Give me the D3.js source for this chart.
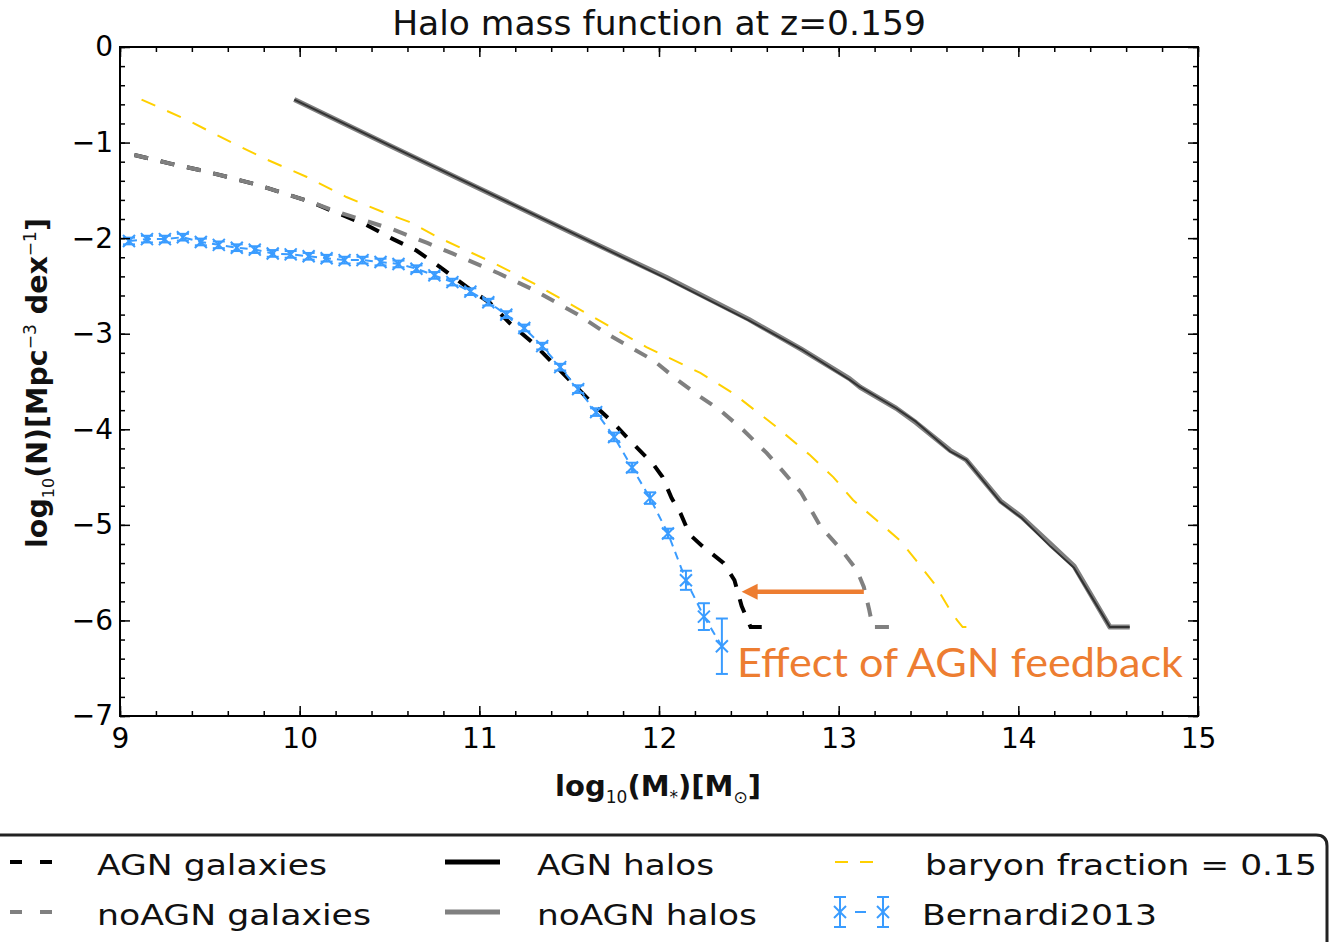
<!DOCTYPE html>
<html>
<head>
<meta charset="utf-8">
<script src="https://cdn.jsdelivr.net/npm/d3@7"></script>
<style>
  html, body { margin: 0; padding: 0; background: #fff; }
  svg { display: block; }
  text { font-family: "DejaVu Sans", sans-serif; }
</style>
</head>
<body>
<svg id="chart" width="1330" height="942"></svg>
<script>
// ---- data (log10 stellar/halo mass vs log10 number density) ----
const agnHaloX   = [9.97, 10.5, 11.0, 11.5, 12.04, 12.5, 12.79, 13.06, 13.12, 13.32, 13.43, 13.62, 13.71, 13.9, 14.02, 14.18, 14.31, 14.51, 14.62];
const agnHaloY   = [-0.55, -1.03, -1.48, -1.93, -2.42, -2.86, -3.16, -3.48, -3.56, -3.78, -3.92, -4.23, -4.32, -4.76, -4.93, -5.23, -5.45, -6.07, -6.07];
const noAgnHaloX = [9.97, 10.5, 11.0, 11.5, 12.04, 12.5, 12.79, 13.06, 13.12, 13.32, 13.43, 13.62, 13.71, 13.9, 14.02, 14.18, 14.31, 14.51, 14.62];
const noAgnHaloY = [-0.55, -1.03, -1.48, -1.93, -2.41, -2.85, -3.16, -3.47, -3.56, -3.78, -3.93, -4.22, -4.32, -4.75, -4.92, -5.2, -5.43, -6.07, -6.07];

const agnGalX = [9.08, 9.28, 9.45, 9.6, 9.76, 9.91, 10.06, 10.2, 10.37, 10.52, 10.65, 10.78, 10.93, 11.06, 11.17, 11.3, 11.41, 11.52, 11.63, 11.75, 11.86, 11.97, 12.02, 12.07, 12.12, 12.17, 12.24, 12.36, 12.42, 12.46, 12.51, 12.59];
const agnGalY = [-1.13, -1.22, -1.29, -1.36, -1.44, -1.53, -1.62, -1.73, -1.86, -2.01, -2.13, -2.3, -2.51, -2.68, -2.89, -3.1, -3.31, -3.52, -3.73, -3.94, -4.16, -4.37, -4.5, -4.72, -4.88, -5.1, -5.22, -5.4, -5.58, -5.85, -6.07, -6.07];

const noAgnGalX = [9.08, 9.28, 9.45, 9.6, 9.76, 9.91, 10.06, 10.2, 10.37, 10.52, 10.71, 10.85, 11.11, 11.3, 11.54, 11.71, 11.97, 12.1, 12.23, 12.34, 12.47, 12.6, 12.69, 12.79, 12.9, 13.01, 13.1, 13.14, 13.17, 13.19, 13.3];
const noAgnGalY = [-1.13, -1.22, -1.29, -1.36, -1.44, -1.53, -1.62, -1.72, -1.82, -1.91, -2.05, -2.16, -2.37, -2.54, -2.79, -3.0, -3.28, -3.48, -3.66, -3.8, -4.01, -4.25, -4.44, -4.66, -5.02, -5.25, -5.47, -5.65, -5.89, -6.07, -6.07];

const baryonX = [9.12, 9.37, 9.59, 9.82, 10.04, 10.26, 10.48, 10.61, 10.78, 11.08, 11.3, 11.6, 11.93, 12.23, 12.41, 12.65, 12.84, 12.97, 13.08, 13.21, 13.34, 13.43, 13.53, 13.62, 13.66, 13.69, 13.76];
const baryonY = [-0.55, -0.76, -0.97, -1.18, -1.36, -1.57, -1.74, -1.83, -2.0, -2.26, -2.47, -2.79, -3.14, -3.41, -3.62, -3.97, -4.27, -4.5, -4.74, -4.95, -5.16, -5.37, -5.61, -5.89, -6.0, -6.07, -6.07];

const bernardiX   = [9.05, 9.15, 9.25, 9.35, 9.45, 9.55, 9.65, 9.75, 9.85, 9.95, 10.05, 10.15, 10.25, 10.35, 10.45, 10.55, 10.65, 10.75, 10.85, 10.95, 11.05, 11.15, 11.25, 11.35, 11.45, 11.55, 11.65, 11.75, 11.85, 11.95, 12.05, 12.15, 12.25, 12.35];
const bernardiY   = [-2.03, -2.01, -2.01, -1.99, -2.04, -2.07, -2.1, -2.12, -2.16, -2.17, -2.19, -2.21, -2.23, -2.23, -2.25, -2.27, -2.32, -2.39, -2.46, -2.56, -2.67, -2.8, -2.94, -3.13, -3.35, -3.58, -3.82, -4.08, -4.4, -4.72, -5.09, -5.58, -5.96, -6.27];
const bernardiErr = [0.035, 0.035, 0.035, 0.035, 0.035, 0.035, 0.035, 0.035, 0.035, 0.035, 0.035, 0.035, 0.035, 0.035, 0.035, 0.035, 0.035, 0.035, 0.035, 0.035, 0.035, 0.035, 0.035, 0.035, 0.035, 0.04, 0.04, 0.045, 0.05, 0.06, 0.05, 0.1, 0.14, 0.29];

const xTicks = [9, 10, 11, 12, 13, 14, 15];
const yTicks = [0, -1, -2, -3, -4, -5, -6, -7];
const titleText = "Halo mass function at z=0.159";
const arrowFrom = [13.14, -5.7];
const arrowTo   = [12.46, -5.7];
const noteText = "Effect of AGN feedback";

// ---- layout ----
const svg = d3.select("#chart");
const x = d3.scaleLinear().domain([9, 15]).range([120, 1198]);
const y = d3.scaleLinear().domain([-7, 0]).range([716, 47]);

const pts = (xs, ys) => xs.map((v, i) => [v, ys[i]]);
const line = d3.line().x(d => x(d[0])).y(d => y(d[1]));

const plot = svg.append("g");

// galaxies (dashed)
plot.append("path").attr("d", line(pts(agnGalX, agnGalY)))
  .attr("fill", "none").attr("stroke", "#000").attr("stroke-width", 4)
  .attr("stroke-dasharray", "14,13");
plot.append("path").attr("d", line(pts(noAgnGalX, noAgnGalY)))
  .attr("fill", "none").attr("stroke", "#808080").attr("stroke-width", 4)
  .attr("stroke-dasharray", "14,13");

// halos (solid)
plot.append("path").attr("d", line(pts(noAgnHaloX, noAgnHaloY)))
  .attr("fill", "none").attr("stroke", "#808080").attr("stroke-width", 5)
  .attr("stroke-linejoin", "round");
plot.append("path").attr("d", line(pts(agnHaloX, agnHaloY)))
  .attr("fill", "none").attr("stroke", "#111").attr("stroke-width", 2)
  .attr("stroke-opacity", 0.7).attr("stroke-linejoin", "round");

// baryon fraction
plot.append("path").attr("d", line(pts(baryonX, baryonY)))
  .attr("fill", "none").attr("stroke", "#ffd000").attr("stroke-width", 2)
  .attr("stroke-dasharray", "15,13");

// Bernardi 2013 observations
const blue = "#3a9cff";
plot.append("path").attr("d", line(pts(bernardiX, bernardiY)))
  .attr("fill", "none").attr("stroke", blue).attr("stroke-width", 2)
  .attr("stroke-dasharray", "8,6");

function errMarker(g, cx, cy, yTop, yBot) {
  const cap = 6, m = 6;
  g.append("line").attr("x1", cx).attr("x2", cx).attr("y1", yTop).attr("y2", yBot);
  g.append("line").attr("x1", cx - cap).attr("x2", cx + cap).attr("y1", yTop).attr("y2", yTop);
  g.append("line").attr("x1", cx - cap).attr("x2", cx + cap).attr("y1", yBot).attr("y2", yBot);
  g.append("line").attr("x1", cx - m).attr("x2", cx + m).attr("y1", cy - m).attr("y2", cy + m);
  g.append("line").attr("x1", cx - m).attr("x2", cx + m).attr("y1", cy + m).attr("y2", cy - m);
}
const eb = plot.append("g").attr("stroke", blue).attr("stroke-width", 2).attr("fill", "none");
bernardiX.forEach((v, i) => {
  errMarker(eb, x(v), y(bernardiY[i]), y(bernardiY[i] + bernardiErr[i]), y(bernardiY[i] - bernardiErr[i]));
});

// annotation arrow and note
const orange = "#ed7d31";
plot.append("line")
  .attr("x1", x(arrowFrom[0])).attr("y1", y(arrowFrom[1]))
  .attr("x2", x(arrowTo[0]) + 14).attr("y2", y(arrowTo[1]))
  .attr("stroke", orange).attr("stroke-width", 4.5);
{
  const tx = x(arrowTo[0]), ty = y(arrowTo[1]);
  plot.append("path")
    .attr("d", `M${tx},${ty} L${tx + 16},${ty - 8} L${tx + 16},${ty + 8} Z`)
    .attr("fill", orange);
}
plot.append("text")
  .attr("x", 737).attr("y", 677)
  .attr("fill", orange)
  .style("font-family", "Lato, 'Open Sans', sans-serif")
  .style("font-size", "40px")
  .attr("textLength", 446).attr("lengthAdjust", "spacingAndGlyphs")
  .text(noteText);

// ---- axes (inward ticks on all sides) ----
const minorX = d3.range(9, 15.001, 0.2).map(v => +v.toFixed(2));
const minorY = d3.range(-7, 0.001, 0.2).map(v => +v.toFixed(2));

function styleAxis(g) {
  g.select(".domain").remove();
  g.selectAll(".tick line").attr("stroke", "#000").attr("stroke-width", 1.5);
  g.selectAll("text").style("font-family", "DejaVu Sans, sans-serif").style("font-size", "28px").attr("fill", "#000");
}

svg.append("g").attr("transform", "translate(0,716)")
  .call(d3.axisBottom(x).tickValues(minorX).tickSize(-5).tickFormat("")).call(styleAxis);
svg.append("g").attr("transform", "translate(0,716)")
  .call(d3.axisBottom(x).tickValues(xTicks).tickSize(-10).tickPadding(12).tickFormat(d3.format("d"))).call(styleAxis);
svg.append("g").attr("transform", "translate(0,47)")
  .call(d3.axisTop(x).tickValues(minorX).tickSize(-5).tickFormat("")).call(styleAxis);
svg.append("g").attr("transform", "translate(0,47)")
  .call(d3.axisTop(x).tickValues(xTicks).tickSize(-10).tickFormat("")).call(styleAxis);

svg.append("g").attr("transform", "translate(120,0)")
  .call(d3.axisLeft(y).tickValues(minorY).tickSize(-5).tickFormat("")).call(styleAxis);
svg.append("g").attr("transform", "translate(120,0)")
  .call(d3.axisLeft(y).tickValues(yTicks).tickSize(-10).tickPadding(7).tickFormat(d3.format("d"))).call(styleAxis);
svg.append("g").attr("transform", "translate(1198,0)")
  .call(d3.axisRight(y).tickValues(minorY).tickSize(-5).tickFormat("")).call(styleAxis);
svg.append("g").attr("transform", "translate(1198,0)")
  .call(d3.axisRight(y).tickValues(yTicks).tickSize(-10).tickFormat("")).call(styleAxis);

svg.append("rect").attr("x", 120).attr("y", 47).attr("width", 1078).attr("height", 669)
  .attr("fill", "none").attr("stroke", "#000").attr("stroke-width", 2);

// ---- title and axis labels ----
svg.append("text").attr("x", 659).attr("y", 35).attr("text-anchor", "middle")
  .style("font-size", "34.5px").attr("fill", "#111").text(titleText);

const xl = svg.append("text").attr("x", 658).attr("y", 796).attr("text-anchor", "middle")
  .style("font-size", "29px").style("font-weight", "bold").attr("fill", "#111");
xl.append("tspan").text("log");
xl.append("tspan").attr("dy", 7).style("font-size", "17px").style("font-weight", "normal").text("10");
xl.append("tspan").attr("dy", -7).text("(M");
xl.append("tspan").attr("dy", 7).style("font-size", "17px").style("font-weight", "normal").text("*");
xl.append("tspan").attr("dy", -7).text(")[M");
xl.append("tspan").attr("dy", 7).style("font-size", "17px").style("font-weight", "normal").text("⊙");
xl.append("tspan").attr("dy", -7).text("]");

const yl = svg.append("text").attr("transform", "translate(47,383) rotate(-90)").attr("text-anchor", "middle")
  .style("font-size", "28.5px").style("font-weight", "bold").attr("fill", "#111");
yl.append("tspan").text("log");
yl.append("tspan").attr("dy", 7).style("font-size", "16px").style("font-weight", "normal").text("10");
yl.append("tspan").attr("dy", -7).text("(N)[Mpc");
yl.append("tspan").attr("dy", -11).style("font-size", "17px").style("font-weight", "normal").text("−3");
yl.append("tspan").attr("dy", 11).text(" dex");
yl.append("tspan").attr("dy", -11).style("font-size", "17px").style("font-weight", "normal").text("−1");
yl.append("tspan").attr("dy", 11).text("]");

// ---- legend ----
const legendNames = ["AGN galaxies", "noAGN galaxies", "AGN halos", "noAGN halos", "baryon fraction = 0.15", "Bernardi2013"];
const legendWidths = [230, 274, 177, 220, 392, 235];
const lg = svg.append("g");
lg.append("path").attr("d", "M-5,835 H1316 Q1327,835 1327,846 V960")
  .attr("fill", "#fff").attr("stroke", "#222").attr("stroke-width", 3);

const rowY = [862, 912];
const handle = (x1, x2, yy, color, w, dash) => {
  const l = lg.append("line").attr("x1", x1).attr("x2", x2).attr("y1", yy).attr("y2", yy)
    .attr("stroke", color).attr("stroke-width", w);
  if (dash) l.attr("stroke-dasharray", dash);
};
handle(10, 55, rowY[0], "#000", 4, "12,18");
handle(10, 55, rowY[1], "#808080", 4, "12,18");
handle(445, 500, rowY[0], "#000", 5);
handle(445, 500, rowY[1], "#808080", 5);
handle(835, 883, rowY[0], "#ffd000", 2, "13,12");
// Bernardi errorbar symbol
lg.append("line").attr("x1", 840).attr("x2", 883).attr("y1", rowY[1]).attr("y2", rowY[1])
  .attr("stroke", blue).attr("stroke-width", 2).attr("stroke-dasharray", "0,15,11,20");
const lgb = lg.append("g").attr("stroke", blue).attr("stroke-width", 2);
errMarker(lgb, 840, rowY[1], rowY[1] - 15, rowY[1] + 15);
errMarker(lgb, 883, rowY[1], rowY[1] - 15, rowY[1] + 15);

const textPos = [[97, 875], [97, 925], [537, 875], [537, 925], [925, 875], [922, 925]];
legendNames.forEach((name, i) => {
  lg.append("text").attr("x", textPos[i][0]).attr("y", textPos[i][1])
    .style("font-size", "29px").attr("fill", "#111")
    .attr("textLength", legendWidths[i]).attr("lengthAdjust", "spacingAndGlyphs")
    .text(name);
});
</script>
</body>
</html>
